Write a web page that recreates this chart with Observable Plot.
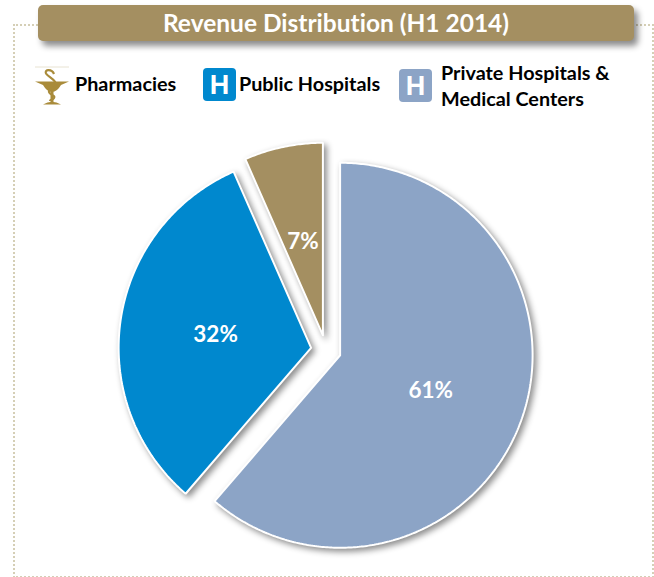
<!DOCTYPE html>
<html><head><meta charset="utf-8">
<script src="https://cdn.jsdelivr.net/npm/d3@7"></script>
<script src="https://cdn.jsdelivr.net/npm/@observablehq/plot@0.6"></script>
<style>
html,body{margin:0;padding:0;background:#fff;overflow:hidden}
body{width:654px;height:577px;position:relative;font-family:Lato,"Open Sans",sans-serif;font-weight:700;color:#000;font-variant-ligatures:none}
#frame{position:absolute;left:13px;top:24px;width:637px;height:550px;border:2px dotted #d5cfb6;box-sizing:content-box}
#title{position:absolute;left:38px;top:5px;width:596px;height:36px;line-height:36px;background:#a48f61;border-radius:5px;color:#fff;text-align:center;font-size:24.5px;box-shadow:4px 5px 6px rgba(0,0,0,.45)}
.lab{position:absolute;font-size:19.8px;line-height:26px;white-space:nowrap}
.h{position:absolute;width:33px;height:33px;border-radius:4px;color:#fff;text-align:center;font:700 27px/34px "Liberation Sans",sans-serif}
#chart{position:absolute;left:0;top:120px}
#chart g[aria-label="line"] path{filter:drop-shadow(3px 3px 3px rgba(0,0,0,.45))}
</style></head><body>
<div id="frame"></div>
<div id="title">Revenue Distribution (H1 2014)</div>
<svg style="position:absolute;left:35px;top:66px" width="34" height="40" viewBox="0 0 34 40">
<line x1="0" x2="34" y1="1" y2="1" stroke="#e8e3d2"/>
<path d="M0 15.5H34L26 19Q22 26 17 26Q12 26 8 19Z" fill="#a98b3a"/>
<path d="M19 8C17 3 9 3 11 7.500C13 11 22 14 21 19C20 23 13 22 14 26C15 30 21 29 19 32C18 34 15 33 15 35" fill="none" stroke="#a98b3a" stroke-width="2.200"/>
<rect x="15.500" y="24" width="3" height="12" fill="#a98b3a"/>
<path d="M8 38.500Q17 33 26 38.500Z" fill="#a98b3a"/>
</svg>
<div class="lab" style="left:75px;top:70px">Pharmacies</div>
<div class="h" style="left:203px;top:68px;background:#0088ce">H</div>
<div class="lab" style="left:239px;top:70px">Public Hospitals</div>
<div class="h" style="left:399px;top:69px;background:#8ca4c6">H</div>
<div class="lab" style="left:441px;top:59px">Private Hospitals &amp;</div>
<div class="lab" style="left:441px;top:85px">Medical Centers</div>
<div id="chart"></div>
<script>
const categories = ["Private Hospitals & Medical Centers", "Public Hospitals", "Pharmacies"];
const shares = [61.3, 32.1, 6.6];
const colors = ["#8ca4c6", "#0088ce", "#a48f61"];
const explode = 15 / 192, labelRadius = 0.58;

const arcs = d3.pie().sort(null)(shares);
const polar = (a, r) => [r * Math.sin(a), r * Math.cos(a)];
const outlines = arcs.flatMap((s, i) => {
  const [ox, oy] = polar((s.startAngle + s.endAngle) / 2, explode);
  const n = Math.ceil((s.endAngle - s.startAngle) / 0.01);
  const pts = [[0, 0]];
  for (let k = 0; k <= n; k++) pts.push(polar(s.startAngle + (s.endAngle - s.startAngle) * k / n, 1));
  pts.push([0, 0]);
  return pts.map(([x, y]) => ({name: categories[i], x: x + ox, y: y + oy}));
});
const labels = arcs.map((s, i) => {
  const [x, y] = polar((s.startAngle + s.endAngle) / 2, labelRadius);
  return {x, y, text: Math.round(shares[i]) + "%"};
});

const chart = Plot.plot({
  width: 654, height: 457,
  marginTop: 0, marginRight: 0, marginBottom: 0, marginLeft: 0,
  x: {domain: [-325.5 / 192.5, 328.5 / 192.5], axis: null},
  y: {domain: [-227.5 / 192.5, 229.5 / 192.5], axis: null},
  color: {domain: categories, range: colors},
  style: {background: "transparent", overflow: "visible"},
  marks: [
    Plot.line(outlines, {x: "x", y: "y", z: "name", fill: "name", stroke: "#fff", strokeWidth: 2, strokeLinejoin: "miter", curve: "linear"}),
    Plot.text(labels, {x: "x", y: "y", dy: 1.5, text: "text", fill: "#fff", fontSize: 22.5, fontWeight: 700, fontFamily: "Lato"})
  ]
});
document.getElementById("chart").appendChild(chart);
</script>
</body></html>
